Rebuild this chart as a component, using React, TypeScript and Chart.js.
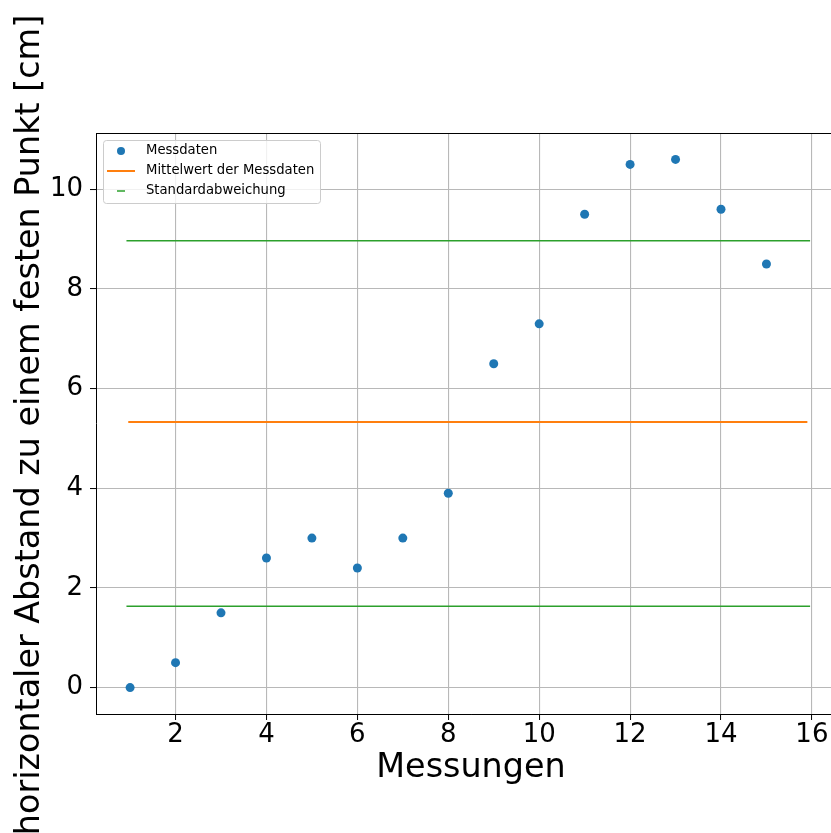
import React, { useEffect, useRef } from "react";
import { Chart, registerables } from "chart.js";

Chart.register(...registerables);

const measurements = [1, 2, 3, 4, 5, 6, 7, 8, 9, 10, 11, 12, 13, 14, 15];
const distances = [0, 0.5, 1.5, 2.6, 3.0, 2.4, 3.0, 3.9, 6.5, 7.3, 9.5, 10.5, 10.6, 9.6, 8.5];
const meanValue = 5.33;
const meanRange = [0.96, 15.9];
const stdUpper = 8.97;
const stdLower = 1.63;
const stdRange = [0.92, 15.96];
const xTicks = [2, 4, 6, 8, 10, 12, 14, 16];
const yTicks = [0, 2, 4, 6, 8, 10];
const labels = ["Messdaten", "Mittelwert der Messdaten", "Standardabweichung"];
const xTitle = "Messungen";
const yTitle = "horizontaler Abstand zu einem festen Punkt [cm]";

const FONT = '"DejaVu Sans", sans-serif';
const BLUE = "#1f77b4";
const ORANGE = "#ff7f0e";
const GREEN = "#2ca02c";

const decorPlugin = {
  id: "decor",
  afterDraw(chart: any) {
    const { ctx, chartArea } = chart;
    ctx.save();
    // top spine
    ctx.strokeStyle = "#000";
    ctx.lineWidth = 1;
    ctx.beginPath();
    ctx.moveTo(chartArea.left, Math.round(chartArea.top) + 0.5);
    ctx.lineTo(chartArea.right, Math.round(chartArea.top) + 0.5);
    ctx.stroke();

    // axis titles
    ctx.fillStyle = "#000";
    ctx.font = "33.4px " + FONT;
    ctx.textAlign = "center";
    ctx.textBaseline = "alphabetic";
    ctx.fillText(xTitle, (chartArea.left + chartArea.right) / 2, 777);
    ctx.save();
    ctx.translate(39, 425);
    ctx.rotate(-Math.PI / 2);
    ctx.fillText(yTitle, 0, 0);
    ctx.restore();

    // legend
    const bx = 103.5, by = 140.5, bw = 217, bh = 63, r = 3;
    ctx.beginPath();
    ctx.moveTo(bx + r, by);
    ctx.lineTo(bx + bw - r, by);
    ctx.quadraticCurveTo(bx + bw, by, bx + bw, by + r);
    ctx.lineTo(bx + bw, by + bh - r);
    ctx.quadraticCurveTo(bx + bw, by + bh, bx + bw - r, by + bh);
    ctx.lineTo(bx + r, by + bh);
    ctx.quadraticCurveTo(bx, by + bh, bx, by + bh - r);
    ctx.lineTo(bx, by + r);
    ctx.quadraticCurveTo(bx, by, bx + r, by);
    ctx.closePath();
    ctx.fillStyle = "rgba(255,255,255,0.8)";
    ctx.fill();
    ctx.strokeStyle = "#cccccc";
    ctx.lineWidth = 1;
    ctx.stroke();

    const ds = chart.data.datasets;
    const rows = [151, 171, 191];
    ctx.font = "13.2px " + FONT;
    ctx.textAlign = "left";
    ctx.textBaseline = "middle";
    // row 1: marker
    ctx.fillStyle = ds[0].backgroundColor;
    ctx.beginPath();
    ctx.arc(121, rows[0], 4, 0, Math.PI * 2);
    ctx.fill();
    // row 2: line
    ctx.strokeStyle = ds[1].borderColor;
    ctx.lineWidth = 2;
    ctx.beginPath();
    ctx.moveTo(107, rows[1]);
    ctx.lineTo(135, rows[1]);
    ctx.stroke();
    // row 3: short line
    ctx.strokeStyle = ds[2].borderColor;
    ctx.lineWidth = 1.5;
    ctx.beginPath();
    ctx.moveTo(117, rows[2]);
    ctx.lineTo(125, rows[2]);
    ctx.stroke();
    ctx.fillStyle = "#000";
    for (let i = 0; i < 3; i++) {
      ctx.fillText(ds[i].label, 146, rows[i]);
    }
    ctx.restore();
  },
};

export default function App() {
  const ref = useRef<HTMLCanvasElement | null>(null);
  useEffect(() => {
    if (!ref.current) return;
    const chart = new Chart(ref.current, {
      type: "scatter",
      data: {
        datasets: [
          {
            label: labels[0],
            data: measurements.map((x, i) => ({ x, y: distances[i] })),
            backgroundColor: BLUE,
            borderColor: BLUE,
            pointRadius: 4.5,
            pointBorderWidth: 0,
            showLine: false,
          },
          {
            label: labels[1],
            type: "line",
            data: meanRange.map((x) => ({ x, y: meanValue })),
            borderColor: ORANGE,
            backgroundColor: ORANGE,
            borderWidth: 2,
            pointRadius: 0,
            showLine: true,
          },
          {
            label: labels[2],
            type: "line",
            data: stdRange.map((x) => ({ x, y: stdUpper })),
            borderColor: GREEN,
            backgroundColor: GREEN,
            borderWidth: 1.5,
            pointRadius: 0,
            showLine: true,
          },
          {
            label: labels[2] + " (unten)",
            type: "line",
            data: stdRange.map((x) => ({ x, y: stdLower })),
            borderColor: GREEN,
            backgroundColor: GREEN,
            borderWidth: 1.5,
            pointRadius: 0,
            showLine: true,
          },
        ] as any,
      },
      options: {
        animation: false,
        responsive: false,
        devicePixelRatio: 1,
        layout: { padding: { left: 0, top: 133, right: 14, bottom: 0 } },
        plugins: { legend: { display: false }, tooltip: { enabled: false } },
        scales: {
          x: {
            type: "linear",
            min: 0.25,
            max: 16.75,
            afterFit: (s: any) => {
              s.height = 119;
            },
            afterBuildTicks: (s: any) => {
              s.ticks = xTicks.map((v) => ({ value: v }));
            },
            ticks: {
              font: { family: FONT, size: 26 },
              color: "#000",
              padding: 0,
              maxRotation: 0,
              autoSkip: false,
            },
            grid: {
              color: "#b8b8b8",
              lineWidth: 1.1,
              tickLength: 6,
              tickColor: "#000",
              tickWidth: 1,
            },
            border: { color: "#000", width: 1 },
          },
          y: {
            type: "linear",
            min: -0.53,
            max: 11.13,
            afterFit: (s: any) => {
              s.width = 96;
            },
            afterBuildTicks: (s: any) => {
              s.ticks = yTicks.map((v) => ({ value: v }));
            },
            ticks: {
              font: { family: FONT, size: 26 },
              color: "#000",
              padding: 7,
              autoSkip: false,
            },
            grid: {
              color: "#b8b8b8",
              lineWidth: 1.1,
              tickLength: 6,
              tickColor: "#000",
              tickWidth: 1,
            },
            border: { color: "#000", width: 1 },
          },
        },
      } as any,
      plugins: [decorPlugin],
    });
    return () => chart.destroy();
  }, []);
  return (
    <div
      style={{
        position: "absolute",
        left: 0,
        top: 0,
        width: 831,
        height: 833,
        overflow: "hidden",
        background: "#fff",
      }}
    >
      <canvas ref={ref} width={860} height={833} style={{ width: 860, height: 833, display: "block" }} />
    </div>
  );
}
